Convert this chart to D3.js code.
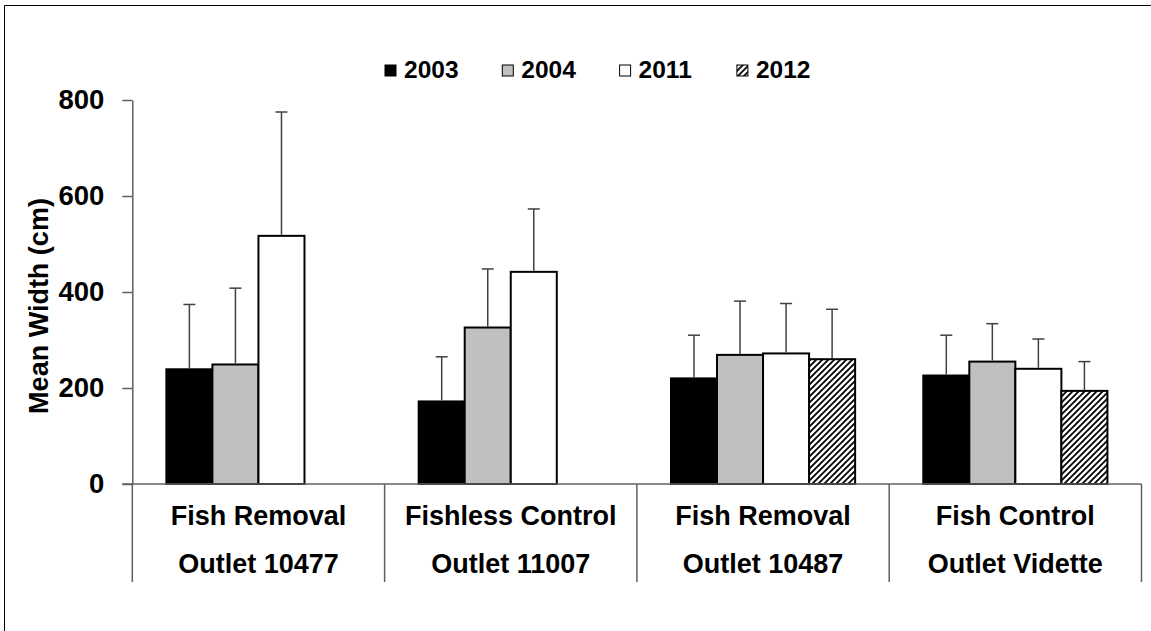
<!DOCTYPE html>
<html lang="en">
<head>
<meta charset="UTF-8">
<title>Mean Width (cm)</title>
<script src="https://d3js.org/d3.v7.min.js"></script>
<style>
    body { margin: 0; background: #fff; }
    text { font-family: "Liberation Sans", Arial, sans-serif; font-weight: bold; fill: #000; }
</style>
</head>
<body>
<div id="chart"></div>
<script>
    // data
    var siteType = ["Fish Removal", "Fishless Control", "Fish Removal", "Fish Control"];
    var siteName = ["Outlet 10477", "Outlet 11007", "Outlet 10487", "Outlet Vidette"];
    var years = ["2003", "2004", "2011", "2012"];
    var mean2003 = [239, 172, 220, 226];
    var mean2004 = [249, 326, 269, 255];
    var mean2011 = [517, 442, 272, 240];
    var mean2012 = [null, null, 260, 194];
    var err2003 = [135, 93, 90, 84];
    var err2004 = [159, 122, 112, 79];
    var err2011 = [258, 131, 104, 62];
    var err2012 = [null, null, 104, 61];
    var yTicks = [0, 200, 400, 600, 800];

    var means = [mean2003, mean2004, mean2011, mean2012];
    var errs = [err2003, err2004, err2011, err2012];
    var fills = { "2003": "#000000", "2004": "#c0c0c0", "2011": "#ffffff", "2012": "url(#hatch)" };

    var width = 1151, height = 631;
    var plotLeft = 132.3, plotRight = 1141.5, plotTop = 100, plotBottom = 484;

    var svg = d3.select("#chart").append("svg")
        .attr("width", width)
        .attr("height", height);

    var defs = svg.append("defs");
    var pat = defs.append("pattern")
        .attr("id", "hatch")
        .attr("patternUnits", "userSpaceOnUse")
        .attr("width", 6)
        .attr("height", 6);
    pat.append("rect").attr("width", 6).attr("height", 6).attr("fill", "#fff");
    pat.append("path")
        .attr("d", "M-1,1 l2,-2 M0,6 l6,-6 M5,7 l2,-2")
        .attr("stroke", "#000")
        .attr("stroke-width", 1.8);

    // outer frame (left and top edges only visible)
    svg.append("path")
        .attr("d", "M4.5," + height + " V5.5 H" + width)
        .attr("fill", "none")
        .attr("stroke", "#000")
        .attr("stroke-width", 1);

    var y = d3.scaleLinear().domain([0, 800]).range([plotBottom, plotTop]);
    var x0 = d3.scaleBand().domain(d3.range(siteName.length)).range([plotLeft, plotRight]).padding(0);
    var x1 = d3.scaleBand().domain(years).range([0, x0.bandwidth()]).paddingInner(0).paddingOuter(0.74);

    // y axis
    var yAxis = svg.append("g")
        .attr("transform", "translate(" + plotLeft + ",0)")
        .call(d3.axisLeft(y).tickValues(yTicks).tickSize(10).tickPadding(18).tickSizeOuter(0));
    yAxis.select(".domain").attr("stroke", "#606060").attr("stroke-width", 1.5);
    yAxis.selectAll(".tick line").attr("stroke", "#606060").attr("stroke-width", 1.5);
    yAxis.selectAll(".tick text").attr("font-size", 27.5).attr("font-family", null).attr("fill", "#000");

    svg.append("text")
        .attr("transform", "translate(48,306) rotate(-90)")
        .attr("text-anchor", "middle")
        .attr("font-size", 27)
        .text("Mean Width (cm)");

    // bars
    var rows = [];
    siteName.forEach(function (s, i) {
        years.forEach(function (yr, j) {
            if (means[j][i] != null) rows.push({ site: i, year: yr, mean: means[j][i], err: errs[j][i] });
        });
    });

    function cx(d) { return x0(d.site) + x1(d.year) + x1.bandwidth() / 2; }

    svg.append("g").selectAll("rect")
        .data(rows)
        .enter().append("rect")
        .attr("x", function (d) { return x0(d.site) + x1(d.year); })
        .attr("y", function (d) { return y(d.mean); })
        .attr("width", x1.bandwidth())
        .attr("height", function (d) { return y(0) - y(d.mean); })
        .attr("fill", function (d) { return fills[d.year]; })
        .attr("stroke", "#000")
        .attr("stroke-width", 2);

    var eb = svg.append("g").attr("stroke", "#404040").attr("stroke-width", 1.5);
    eb.selectAll("line.v")
        .data(rows)
        .enter().append("line")
        .attr("class", "v")
        .attr("x1", cx).attr("x2", cx)
        .attr("y1", function (d) { return y(d.mean) - 1; })
        .attr("y2", function (d) { return y(d.mean + d.err); });
    eb.selectAll("line.cap")
        .data(rows)
        .enter().append("line")
        .attr("class", "cap")
        .attr("x1", function (d) { return cx(d) - 6; })
        .attr("x2", function (d) { return cx(d) + 6; })
        .attr("y1", function (d) { return y(d.mean + d.err); })
        .attr("y2", function (d) { return y(d.mean + d.err); });

    // x axis with category separators
    var xa = svg.append("g").attr("stroke", "#606060").attr("stroke-width", 1.5);
    xa.append("line")
        .attr("x1", plotLeft - 10).attr("x2", plotRight)
        .attr("y1", y(0)).attr("y2", y(0));
    var seps = d3.range(siteName.length + 1).map(function (i) { return plotLeft + i * x0.bandwidth(); });
    xa.selectAll("line.sep")
        .data(seps)
        .enter().append("line")
        .attr("class", "sep")
        .attr("x1", function (d) { return d; }).attr("x2", function (d) { return d; })
        .attr("y1", y(0)).attr("y2", 582);

    var labels = svg.append("g").attr("text-anchor", "middle").attr("font-size", 27);
    labels.selectAll("text.t")
        .data(siteType)
        .enter().append("text")
        .attr("class", "t")
        .attr("x", function (d, i) { return x0(i) + x0.bandwidth() / 2; })
        .attr("y", 525)
        .text(function (d) { return d; });
    labels.selectAll("text.n")
        .data(siteName)
        .enter().append("text")
        .attr("class", "n")
        .attr("x", function (d, i) { return x0(i) + x0.bandwidth() / 2; })
        .attr("y", 573)
        .text(function (d) { return d; });

    // legend
    var legend = svg.append("g").attr("transform", "translate(385,65)");
    var item = legend.selectAll("g")
        .data(years)
        .enter().append("g")
        .attr("transform", function (d, i) { return "translate(" + (i * 117.3) + ",0)"; });
    item.append("rect")
        .attr("width", 11).attr("height", 11)
        .attr("fill", function (d) { return fills[d]; })
        .attr("stroke", "#000")
        .attr("stroke-width", 1);
    item.append("text")
        .attr("x", 19)
        .attr("y", 12.5)
        .attr("font-size", 24.5)
        .text(function (d) { return d; });
</script>
</body>
</html>
